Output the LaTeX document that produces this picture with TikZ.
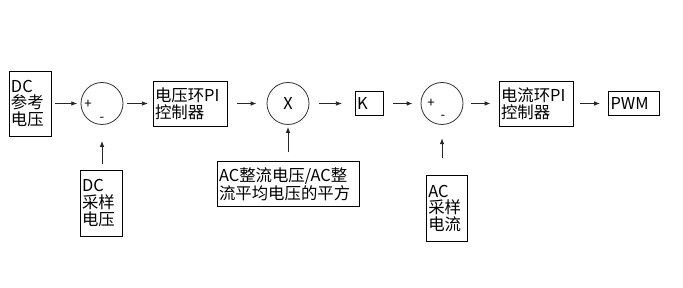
\documentclass[tikz,border=0pt]{standalone}
\usepackage{fontspec}
\setmainfont{Noto Sans CJK SC}
\usetikzlibrary{arrows.meta,positioning}
\tikzset{
  blk/.style={draw=black,line width=0.6pt,align=left,inner sep=1.5pt,
    font=\fontsize{12.3}{12.6}\selectfont},
  sumc/.style={circle,draw=black!80,line width=0.6pt,minimum size=31.5pt,inner sep=0pt,
    font=\fontsize{12.3}{12.6}\selectfont},
  sgn/.style={inner sep=0pt,font=\fontsize{10}{10}\selectfont},
  arrow/.style={-{Latex[length=4.5pt,width=3.4pt]},line width=0.6pt,color=black!85,
    shorten <=6pt,shorten >=6pt}
}
\begin{document}
\begin{tikzpicture}[x=0.75pt,y=-0.75pt]
  \useasboundingbox (0,0) rectangle (683,288);
  % forward path
  \node[blk,text width=28.5pt,minimum height=48.75pt] (dcref) at (30,103.5) {DC\\参考\\电压};
  \node[sumc] (sum1) at (102,103.5) {};
  \node[blk,text width=52.5pt,minimum height=33.75pt] (vpi) at (190,103.5) {电压环PI\\控制器};
  \node[sumc] (mul) at (288,103.5) {X};
  \node[blk,text width=18pt,minimum height=17.5pt] (kk) at (369,103.5) {K};
  \node[sumc] (sum2) at (442,103.5) {};
  \node[blk,text width=52.5pt,minimum height=33.75pt] (ipi) at (536,103.5) {电流环PI\\控制器};
  \node[blk,text width=35.25pt,minimum height=18pt] (pwm) at (634,103.5) {PWM};
  % signs
  \node[sgn] (sum1p) at (88,104) {+};
  \node[sgn] (sum1m) at (102,119) {-};
  \node[sgn] (sum2p) at (431,103) {+};
  \node[sgn] (sum2m) at (443,117) {-};
  % feedback inputs
  \node[blk,text width=28.5pt,minimum height=49.5pt] (dcfb) at (101,203) {DC\\采样\\电压};
  \node[blk,text width=103.5pt,minimum height=33.75pt] (acrat) at (288,184) {AC整流电压/AC整\\流平均电压的平方};
  \node[blk,text width=28pt,minimum height=49.5pt] (acfb) at (447,208.5) {AC\\采样\\电流};
  \draw[arrow,shorten <=3pt,shorten >=2.5pt] (dcref) -- (sum1);
  \draw[arrow,shorten <=3pt,shorten >=3.5pt] (sum1) -- (vpi);
  \draw[arrow,shorten <=7.5pt,shorten >=7.5pt] (vpi) -- (mul);
  \draw[arrow,shorten <=7pt,shorten >=9.5pt] (mul) -- (kk);
  \draw[arrow,shorten <=7.5pt,shorten >=6pt] (kk) -- (sum2);
  \draw[arrow] (sum2) -- (ipi);
  \draw[arrow,shorten <=5pt] (ipi) -- (pwm);
  \draw[arrow,shorten <=4pt,shorten >=12pt] (dcfb.north -| sum1) -- (sum1);
  \draw[arrow,shorten <=6.5pt,shorten >=1.5pt] (acrat.north -| mul) -- (mul);
  \draw[arrow,shorten <=13pt,shorten >=10pt] (acfb.north -| sum2) -- (sum2);
\end{tikzpicture}
\end{document}
